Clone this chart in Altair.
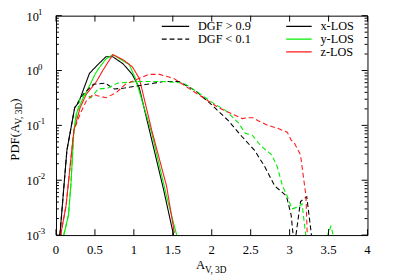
import altair as alt
import pandas as pd

W, H = 318, 224
FONT = "Liberation Serif"

# ---- data ----
# DGF > 0.9 (solid)
hi_x_A = [0.05, 0.14, 0.24, 0.29, 0.43, 0.54, 0.64, 0.73, 0.86, 0.98, 1.07, 1.23, 1.38, 1.51]
hi_x_P = [0.001, 0.035, 0.21, 0.26, 0.89, 1.29, 1.78, 1.78, 1.33, 0.85, 0.48, 0.054, 0.0069, 0.001]

hi_y_A = [0.10, 0.16, 0.19, 0.23, 0.26, 0.35, 0.44, 0.50, 0.54, 0.64, 0.73, 0.94, 1.02, 1.23, 1.42, 1.55]
hi_y_P = [0.001, 0.0023, 0.0078, 0.081, 0.162, 0.32, 0.56, 0.85, 1.05, 1.62, 1.95, 1.29, 0.72, 0.072, 0.0051, 0.001]

hi_z_A = [0.06, 0.13, 0.19, 0.23, 0.31, 0.39, 0.52, 0.60, 0.73, 0.86, 0.98, 1.07, 1.23, 1.42, 1.52]
hi_z_P = [0.001, 0.0035, 0.0237, 0.081, 0.21, 0.37, 0.63, 1.0, 1.95, 1.58, 1.17, 0.72, 0.081, 0.0078, 0.0011]

# DGF < 0.1 (dashed)
lo_x_A = [0.05, 0.14, 0.24, 0.35, 0.48, 0.63, 0.75, 0.88, 1.17, 1.38, 1.58, 1.80, 2.01, 2.21, 2.39,
          2.55, 2.68, 2.81, 2.89, 2.96, 3.02, 3.06, 3.14, 3.22, 3.30]
lo_x_P = [0.001, 0.035, 0.21, 0.37, 0.56, 0.59, 0.46, 0.48, 0.56, 0.63, 0.63, 0.42, 0.23, 0.123, 0.062,
          0.035, 0.0178, 0.0078, 0.0063, 0.0051, 0.0023, 0.0006, 0.0041, 0.005, 0.0006]

lo_y_A = [0.10, 0.16, 0.19, 0.23, 0.31, 0.39, 0.45, 0.54, 0.67, 0.79, 1.04, 1.38, 1.64, 1.80, 2.01,
          2.18, 2.34, 2.43, 2.52, 2.64, 2.77, 2.84, 2.91, 2.97, 3.03, 3.12, 3.16, 3.22, 3.43, 3.53, 3.60]
lo_y_P = [0.001, 0.0023, 0.0078, 0.081, 0.32, 0.37, 0.32, 0.46, 0.48, 0.59, 0.63, 0.63, 0.59, 0.42, 0.26,
          0.186, 0.112, 0.072, 0.066, 0.041, 0.029, 0.0178, 0.0078, 0.0051, 0.003, 0.0033, 0.0037, 0.0007,
          0.0006, 0.00145, 0.0006]

lo_z_A = [0.06, 0.13, 0.19, 0.23, 0.31, 0.39, 0.48, 0.52, 0.64, 0.77, 0.89, 1.07, 1.19, 1.33, 1.51,
          1.67, 1.92, 2.09, 2.26, 2.39, 2.47, 2.53, 2.59, 2.72, 2.84, 2.97, 3.02, 3.06, 3.14, 3.21, 3.23]
lo_z_P = [0.001, 0.0035, 0.0237, 0.081, 0.162, 0.28, 0.37, 0.35, 0.32, 0.39, 0.56, 0.72, 0.85, 0.85, 0.72,
          0.51, 0.30, 0.21, 0.162, 0.133, 0.138, 0.138, 0.123, 0.10, 0.089, 0.075, 0.054, 0.048, 0.029,
          0.0051, 0.0007]

los_names = ["x-LOS", "y-LOS", "z-LOS"]
los_colors = ["#000000", "#00ee00", "#ff1a1a"]
dgf_names = ["DGF > 0.9", "DGF < 0.1"]

x_ticks = [0, 0.5, 1, 1.5, 2, 2.5, 3, 3.5, 4]
x_labels = ["0", "0.5", "1", "1.5", "2", "2.5", "3", "3.5", "4"]
y_exps = [1, 0, -1, -2, -3]

# ---- build table ----
rows = []
series = [
    (hi_x_A, hi_x_P, "x-LOS", "DGF > 0.9"),
    (hi_y_A, hi_y_P, "y-LOS", "DGF > 0.9"),
    (hi_z_A, hi_z_P, "z-LOS", "DGF > 0.9"),
    (lo_x_A, lo_x_P, "x-LOS", "DGF < 0.1"),
    (lo_y_A, lo_y_P, "y-LOS", "DGF < 0.1"),
    (lo_z_A, lo_z_P, "z-LOS", "DGF < 0.1"),
]
for xs_, ps_, los, dgf in series:
    for i, (a, p) in enumerate(zip(xs_, ps_)):
        rows.append({"A": a, "pdf": p, "los": los, "dgf": dgf, "key": dgf + los, "i": i})
df = pd.DataFrame(rows)

xscale = alt.Scale(domain=[0, 4], nice=False, zero=False)
yscale = alt.Scale(type="log", domain=[0.001, 10], nice=False)

lines = alt.Chart(df).mark_line(clip=True, strokeWidth=1.1).encode(
    x=alt.X("A:Q", scale=xscale, axis=None),
    y=alt.Y("pdf:Q", scale=yscale, axis=None),
    color=alt.Color("los:N", scale=alt.Scale(domain=los_names, range=los_colors), legend=None),
    strokeDash=alt.StrokeDash("dgf:N", scale=alt.Scale(domain=dgf_names, range=[[1, 0], [5, 3]]),
                              legend=None),
    detail="key:N",
    order="i:Q",
)

# ---- inward ticks ----
xt = pd.DataFrame({"A": x_ticks, "lab": x_labels})
yt_major = pd.DataFrame({"pdf": [10.0 ** e for e in y_exps]})
yt_minor = pd.DataFrame({"pdf": [m * 10.0 ** e for e in [-3, -2, -1, 0] for m in range(2, 10)]})

def xtick(y0, y1):
    return alt.Chart(xt).mark_rule(color="black", strokeWidth=1).encode(
        x=alt.X("A:Q", scale=xscale, axis=None), y=alt.value(y0), y2=alt.value(y1))

def ytick(data, x0, x1):
    return alt.Chart(data).mark_rule(color="black", strokeWidth=1).encode(
        y=alt.Y("pdf:Q", scale=yscale, axis=None), x=alt.value(x0), x2=alt.value(x1))

ticks = [
    xtick(H, H - 6), xtick(0, 6),
    ytick(yt_major, 0, 6), ytick(yt_major, W, W - 6),
    ytick(yt_minor, 0, 3), ytick(yt_minor, W, W - 3),
]

# ---- x tick labels ----
xlab = alt.Chart(xt).mark_text(font=FONT, fontSize=13, align="center", baseline="alphabetic",
                               color="black").encode(
    x=alt.X("A:Q", scale=xscale, axis=None), y=alt.value(H + 19), text="lab:N")

# ---- y tick labels 10^e ----
yl = pd.DataFrame({"pdf": [10.0 ** e for e in y_exps], "base": ["10"] * len(y_exps),
                   "exp": [str(e) for e in y_exps]})
ylab_base = alt.Chart(yl).mark_text(font=FONT, fontSize=12.5, align="left", baseline="alphabetic",
                                    dy=5, color="black").encode(
    y=alt.Y("pdf:Q", scale=yscale, axis=None), x=alt.value(-30), text="base:N")
ylab_exp = alt.Chart(yl).mark_text(font=FONT, fontSize=9, align="left", baseline="alphabetic",
                                   dy=-1, color="black").encode(
    y=alt.Y("pdf:Q", scale=yscale, axis=None), x=alt.value(-18.5), text="exp:N")

def label(txt, x, y, size=13, angle=0, align="left", baseline="alphabetic"):
    return alt.Chart(pd.DataFrame({"t": [txt]})).mark_text(
        font=FONT, fontSize=size, angle=angle, align=align, baseline=baseline, color="black"
    ).encode(x=alt.value(x), y=alt.value(y), text="t:N")

# axis titles
titles = [
    label("A", 143, 259, 13),
    label("V, 3D", 152, 263, 9.5),
    label("PDF(A", -38, 148, 13, angle=270),
    label("V, 3D", -35, 111, 9.5, angle=270),
    label(")", -38, 89, 13, angle=270),
]

# ---- legend ----
leg = []
def leg_line(x0, x1, y, color, dash):
    return alt.Chart(pd.DataFrame({"t": [0]})).mark_rule(color=color, strokeWidth=1.2,
                                                         strokeDash=dash).encode(
        x=alt.value(x0), x2=alt.value(x1), y=alt.value(y))

leg += [leg_line(108, 136, 11, "black", [1, 0]), label(dgf_names[0], 145, 11, 12.5, baseline="middle")]
leg += [leg_line(108, 136, 24, "black", [5, 3]), label(dgf_names[1], 145, 24, 12.5, baseline="middle")]
for k, (nm, col) in enumerate(zip(los_names, los_colors)):
    yy = [11, 24, 37][k]
    leg += [leg_line(235, 261, yy, col, [1, 0]), label(nm, 270, yy, 12.5, baseline="middle")]

chart = alt.layer(lines, *ticks, xlab, ylab_base, ylab_exp, *titles, *leg).properties(
    width=W, height=H,
    autosize=alt.AutoSizeParams(type="none"),
    padding={"left": 49, "top": 5, "right": 24, "bottom": 42},
    background="white",
).configure_view(stroke="black", strokeWidth=1)

chart.save("out.html", embed_options={"renderer": "svg", "actions": False})
